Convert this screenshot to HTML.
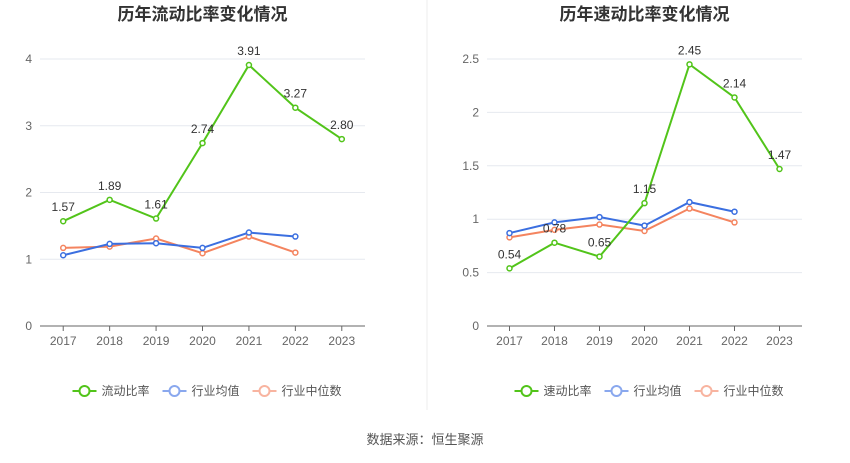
<!DOCTYPE html>
<html><head><meta charset="utf-8"><style>
body{margin:0;background:#fff;font-family:"Liberation Sans","Noto Sans CJK SC",sans-serif;}
svg text{font-family:"Liberation Sans","Noto Sans CJK SC",sans-serif;}
</style></head><body>
<svg id="c" width="850" height="458" xmlns="http://www.w3.org/2000/svg">
<line x1="427" y1="0" x2="427" y2="410" stroke="#eee"/>
<text x="425" y="444" font-size="13" fill="#555" text-anchor="middle">数据来源：恒生聚源</text>
</svg>
<script>
const years=["2017","2018","2019","2020","2021","2022","2023"];
const leftMain=[1.57,1.89,1.61,2.74,3.91,3.27,2.80];
const leftAvg=[1.06,1.23,1.24,1.17,1.40,1.34];
const leftMed=[1.17,1.19,1.31,1.09,1.34,1.10];
const leftTicks=[0,1,2,3,4];
const rightMain=[0.54,0.78,0.65,1.15,2.45,2.14,1.47];
const rightAvg=[0.87,0.97,1.02,0.94,1.16,1.07];
const rightMed=[0.83,0.90,0.95,0.89,1.10,0.97];
const rightTicks=[0,0.5,1,1.5,2,2.5];
const NS="http://www.w3.org/2000/svg";
const svg=document.getElementById('c');
function mk(tag,attrs,parent){const e=document.createElementNS(NS,tag);for(const k in attrs)e.setAttribute(k,attrs[k]);(parent||svg).appendChild(e);return e;}
function chart(cfg){
  const g=mk('g',{});
  
  
  const x0=cfg.x0,x1=cfg.x1,top=59,bot=326,maxV=cfg.ticks[cfg.ticks.length-1];
  const step=(x1-x0)/years.length;
  const X=i=>x0+step*(i+0.5);
  const Y=v=>bot-(v/maxV)*(bot-top);
  const t=mk('text',{x:(x0+x1)/2,y:20,'font-size':17,'font-weight':'bold',fill:'#333','text-anchor':'middle'},g);
  t.textContent=cfg.title;
  
  
  cfg.ticks.forEach(v=>{
    const l=mk('line',{x1:x0,x2:x1,y1:Y(v),y2:Y(v),stroke:v===0?'#666':'#e6e9ef'},g);
    
    
    const tt=mk('text',{x:x0-8,y:Y(v)+4,'font-size':12,fill:'#666','text-anchor':'end'},g);
    tt.textContent=String(v);
    
    
  });
  years.forEach((y,i)=>{
    const tk=mk('line',{x1:X(i),x2:X(i),y1:bot,y2:bot+5,stroke:'#666'},g);
    
    
    const tt=mk('text',{x:X(i),y:bot+19,'font-size':12,fill:'#666','text-anchor':'middle'},g);
    tt.textContent=y;
    
    
  });
  const series=[[cfg.med,'#f4845f','median-line'],[cfg.avg,'#3b6fe0','average-line'],[cfg.main,'#52c41a','main-line']];
  series.forEach(([arr,col,nm])=>{
    const p=mk('polyline',{points:arr.map((v,i)=>X(i)+','+Y(v)).join(' '),fill:'none',stroke:col,'stroke-width':2},g);
    
    
    arr.forEach((v,i)=>{
      const c=mk('circle',{cx:X(i),cy:Y(v),r:2.5,fill:'#fff',stroke:col,'stroke-width':1.5},g);
      
      
    });
  });
  cfg.main.forEach((v,i)=>{
    const tt=mk('text',{x:X(i),y:Y(v)-10,'font-size':12,fill:'#333','text-anchor':'middle'},g);
    tt.textContent=v.toFixed(2);
    
    
  });
  const lx=(x0+x1)/2-130;
  [[cfg.mainName,'#52c41a'],['行业均值','#8aa8ee'],['行业中位数','#f8b4a0']].forEach(([n,col],k)=>{
    const ox=lx+[0,90,180][k];
    const lg=mk('g',{},g);
    
    
    mk('line',{x1:ox,x2:ox+24,y1:391,y2:391,stroke:col,'stroke-width':2},lg);
    mk('circle',{cx:ox+12,cy:391,r:5,fill:'#fff',stroke:col,'stroke-width':2},lg);
    const tt=mk('text',{x:ox+29,y:395,'font-size':12,fill:'#555'},lg);
    tt.textContent=n;
  });
}
chart({name:'current-ratio-chart',title:'历年流动比率变化情况',mainName:'流动比率',x0:40,x1:365,ticks:leftTicks,main:leftMain,avg:leftAvg,med:leftMed});
chart({name:'quick-ratio-chart',title:'历年速动比率变化情况',mainName:'速动比率',x0:487,x1:802,ticks:rightTicks,main:rightMain,avg:rightAvg,med:rightMed});
</script>
</body></html>
